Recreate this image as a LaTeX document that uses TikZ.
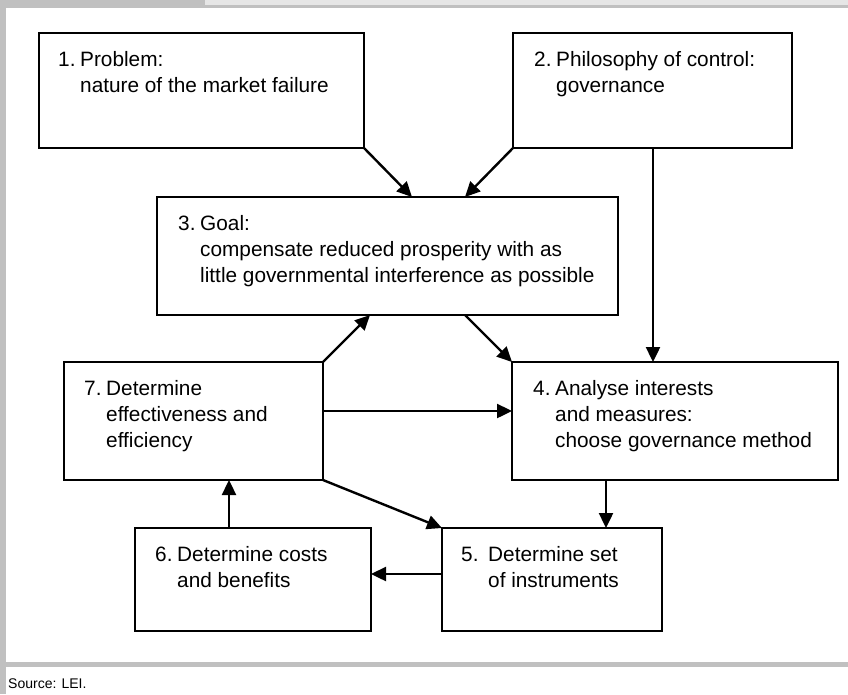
\documentclass[tikz,border=0pt]{standalone}
\usepackage{fontspec}
\setmainfont{Liberation Sans}
\usetikzlibrary{arrows.meta}

\definecolor{framegray}{HTML}{C0C0C0}
\definecolor{bandgray}{HTML}{E6E6E6}

\begin{document}
\begin{tikzpicture}[x=1pt,y=-1pt,
  stepbox/.style={draw=black, line width=1.8pt, anchor=north west, inner sep=0pt, outer sep=0pt},
  steptext/.style={anchor=base west, inner sep=0pt, font=\fontsize{20.8}{26}\selectfont},
  flow/.style={line width=2.4pt, -{Triangle[length=15pt,width=14pt]}},
  source/.style={anchor=base west, inner sep=0pt, font=\fontsize{14}{16}\selectfont}
]
\useasboundingbox (0,0) rectangle (848,694);
\fill[white] (0,0) rectangle (848,694);

% frame: top band, left rule, rule above the source line
\fill[bandgray] (205,0) rectangle (848,5);
\fill[framegray] (205,5) rectangle (848,8);
\fill[framegray] (0,0) rectangle (205,8);
\fill[framegray] (0,0) rectangle (6,694);
\fill[framegray] (0,662) rectangle (848,667);

% boxes
\node[stepbox, minimum width=325pt, minimum height=115pt] (b1) at (39,33) {};
\node[stepbox, minimum width=279pt, minimum height=115pt] (b2) at (513,33) {};
\node[stepbox, minimum width=461pt, minimum height=118pt] (b3) at (157,197) {};
\node[stepbox, minimum width=326pt, minimum height=118pt] (b4) at (512,362) {};
\node[stepbox, minimum width=259pt, minimum height=118pt] (b7) at (64,362) {};
\node[stepbox, minimum width=220pt, minimum height=103pt] (b5) at (442,528) {};
\node[stepbox, minimum width=236pt, minimum height=103pt] (b6) at (135,528) {};

% box texts
\node[steptext] (t1) at (58,66) {\begin{tabular}[t]{@{}p{22pt}@{}l@{}}1.&Problem:\\&nature of the market failure\end{tabular}};
\node[steptext] (t2) at (534,66) {\begin{tabular}[t]{@{}p{22pt}@{}l@{}}2.&Philosophy of control:\\&governance\end{tabular}};
\node[steptext] (t3) at (178,230) {\begin{tabular}[t]{@{}p{22pt}@{}l@{}}3.&Goal:\\&compensate reduced prosperity with as\\&little governmental interference as possible\end{tabular}};
\node[steptext] (t4) at (533,395) {\begin{tabular}[t]{@{}p{22pt}@{}l@{}}4.&Analyse interests\\&and measures:\\&choose governance method\end{tabular}};
\node[steptext] (t7) at (84,395) {\begin{tabular}[t]{@{}p{22pt}@{}l@{}}7.&Determine\\&effectiveness and\\&efficiency\end{tabular}};
\node[steptext] (t5) at (461,561) {\begin{tabular}[t]{@{}p{27pt}@{}l@{}}5.&Determine set\\&of instruments\end{tabular}};
\node[steptext] (t6) at (155,561) {\begin{tabular}[t]{@{}p{22pt}@{}l@{}}6.&Determine costs\\&and benefits\end{tabular}};

% connector end points
\coordinate (c13) at ([xshift=255pt]b3.north west);
\coordinate (c23) at ([xshift=308pt]b3.north west);
\coordinate (c24s) at ([xshift=140pt]b2.south west);
\coordinate (c24e) at ([xshift=141pt]b4.north west);
\coordinate (c34) at ([xshift=308pt]b3.south west);
\coordinate (c73) at ([xshift=213pt]b3.south west);
\coordinate (c74) at ([yshift=-49pt]b7.north east);
\coordinate (c45s) at ([xshift=94pt]b4.south west);
\coordinate (c45e) at ([xshift=164pt]b5.north west);
\coordinate (c56) at ([yshift=-46pt]b5.north west);
\coordinate (c67s) at ([xshift=94pt]b6.north west);
\coordinate (c67e) at ([xshift=165pt]b7.south west);

% connectors
\draw[flow] (b1.south east) -- (c13);
\draw[flow] (b2.south west) -- (c23);
\draw[flow] (c24s) -- (c24e);
\draw[flow] (c34) -- (b4.north west);
\draw[flow] (b7.north east) -- (c73);
\draw[flow] (c74) -- (c74 -| b4.west);
\draw[flow] (b7.south east) -- (b5.north west);
\draw[flow] (c45s) -- (c45e);
\draw[flow] (c56) -- (c56 -| b6.east);
\draw[flow] (c67s) -- (c67e);

% source line
\node[source] (src) at (8,688) {Source: LEI.};
\end{tikzpicture}
\end{document}
